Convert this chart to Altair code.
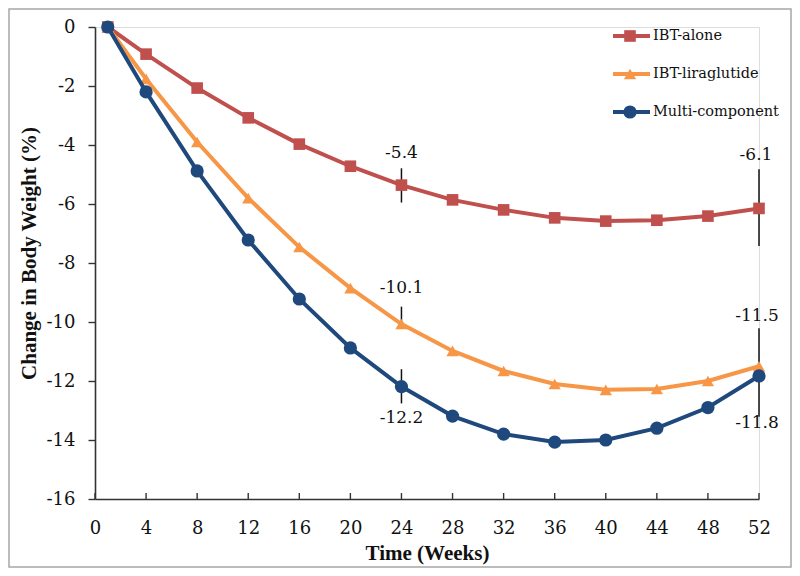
import altair as alt
import pandas as pd

# ---------------- data ----------------
weeks = [1, 4, 8, 12, 16, 20, 24, 28, 32, 36, 40, 44, 48, 52]
ibt_alone = [0, -0.92, -2.07, -3.08, -3.97, -4.72, -5.36, -5.86, -6.20, -6.47, -6.58, -6.55, -6.41, -6.15]
ibt_lira = [0, -1.76, -3.90, -5.80, -7.46, -8.85, -10.07, -10.98, -11.66, -12.10, -12.30, -12.27, -12.00, -11.50]
multi_comp = [0, -2.20, -4.88, -7.22, -9.22, -10.88, -12.19, -13.19, -13.80, -14.07, -14.00, -13.60, -12.90, -11.83]

series_names = ["IBT-alone", "IBT-liraglutide", "Multi-component"]
series_colors = ["#C0504D", "#F79646", "#1F497D"]
series_shapes = ["square", "triangle-up", "circle"]
series_sizes = [135, 150, 175]

# error bars
err_week = [24, 24, 24, 52, 52, 52]
err_low = [-5.95, -10.07, -12.76, -7.42, -11.50, -13.21]
err_high = [-4.79, -9.48, -11.60, -4.82, -10.21, -11.83]

# value labels
label_week = [24, 24, 24, 52, 52, 52]
label_value = [-5.36, -10.07, -12.19, -6.15, -11.50, -11.83]
label_text = ["-5.4", "-10.1", "-12.2", "-6.1", "-11.5", "-11.8"]

x_ticks = list(range(0, 53, 4))
y_ticks = list(range(-16, 1, 2))

# ---------------- layout (styles only) ----------------
W, H = 664, 472
PAD = {"left": 87, "top": 19, "right": 33, "bottom": 69}
label_dy = [-32, -36, 31, -53, -50, 47]
label_dx = [0, 0, 0, -3, -2, -2]
NUM_FONT = "DejaVu Serif"
TITLE_FONT = "Liberation Serif"

series_values = [ibt_alone, ibt_lira, multi_comp]
long_rows = []
for name, vals in zip(series_names, series_values):
    for w, v in zip(weeks, vals):
        long_rows.append({"series": name, "week": w, "value": v})
df = pd.DataFrame(long_rows)

err_df = pd.DataFrame({"week": err_week, "value": err_low, "value2": err_high})
lab_df = pd.DataFrame({"week": label_week, "value": label_value, "text": label_text})
xt_df = pd.DataFrame({"week": x_ticks})

x_scale = alt.Scale(domain=[0, 52], nice=False, zero=False)
y_scale = alt.Scale(domain=[-16, 0], nice=False, zero=False)

X = alt.X(
    "week:Q",
    scale=x_scale,
    axis=alt.Axis(
        values=x_ticks, title="Time (Weeks)", grid=False, tickSize=0,
        labelPadding=20, labelFont=NUM_FONT, labelFontSize=18, labelColor="#111",
        labelExpr="toString(datum.value)",
        domainColor="#333", domainWidth=1.6,
        titleFont=TITLE_FONT, titleFontSize=21, titleFontWeight="bold",
        titleColor="#111", titlePadding=5, labelFlush=False,
    ),
)
Y = alt.Y(
    "value:Q",
    scale=y_scale,
    axis=alt.Axis(
        values=y_ticks, title="Change in Body Weight (%)", grid=False,
        tickSize=7, tickColor="#333", tickWidth=1.4,
        labelPadding=13, labelFont=NUM_FONT, labelFontSize=18, labelColor="#111",
        labelExpr="toString(datum.value)",
        domainColor="#333", domainWidth=1.6,
        titleFont=TITLE_FONT, titleFontSize=21, titleFontWeight="bold",
        titleColor="#111", titleX=-66, titleY=226, titleAngle=-90,
        titleAlign="center", titleBaseline="middle", labelFlush=False,
    ),
)

layers = []

# frame around chart
frame = alt.Chart(pd.DataFrame({"k": [0]})).mark_rect(
    fill=None, stroke="#A6A6A6", strokeWidth=1.5
).encode(
    x=alt.value(-PAD["left"] + 1), x2=alt.value(W + PAD["right"] - 1),
    y=alt.value(-PAD["top"] + 1), y2=alt.value(H + PAD["bottom"] - 1),
)
layers.append(frame)

# x ticks pointing inward
xt = alt.Chart(xt_df).mark_rule(color="#333", strokeWidth=1.4).encode(
    x=alt.X("week:Q", scale=x_scale), y=alt.value(H), y2=alt.value(H - 6)
)
layers.append(xt)

# error bars
eb = alt.Chart(err_df).mark_rule(color="#111", strokeWidth=1.5).encode(
    x=alt.X("week:Q", scale=x_scale),
    y=alt.Y("value:Q", scale=y_scale),
    y2="value2:Q",
)
layers.append(eb)

# series
for name, col, shp, sz in zip(series_names, series_colors, series_shapes, series_sizes):
    sub = df[df["series"] == name]
    base = alt.Chart(sub)
    line = base.mark_line(color=col, strokeWidth=4).encode(x=X, y=Y)
    pts = base.mark_point(shape=shp, size=sz, filled=True, color=col, opacity=1).encode(
        x=alt.X("week:Q", scale=x_scale), y=alt.Y("value:Q", scale=y_scale)
    )
    layers += [line, pts]

# value labels
for i in range(len(label_text)):
    t = alt.Chart(lab_df.iloc[[i]]).mark_text(
        font=NUM_FONT, fontSize=17, color="#111", dy=label_dy[i], dx=label_dx[i],
        align="center", baseline="middle",
    ).encode(
        x=alt.X("week:Q", scale=x_scale), y=alt.Y("value:Q", scale=y_scale), text="text:N"
    )
    layers.append(t)

# manual legend
leg_y = [9, 47, 85]
for i, (name, col, shp, sz) in enumerate(zip(series_names, series_colors, series_shapes, series_sizes)):
    ldf = pd.DataFrame({"series": [name]})
    lb = alt.Chart(ldf)
    layers.append(lb.mark_rule(color=col, strokeWidth=4).encode(
        x=alt.value(518), x2=alt.value(555), y=alt.value(leg_y[i])))
    layers.append(lb.mark_point(shape=shp, size=sz, filled=True, color=col, opacity=1).encode(
        x=alt.value(535), y=alt.value(leg_y[i])))
    layers.append(lb.mark_text(font=NUM_FONT, fontSize=14.5, color="#111", align="left",
                               baseline="middle").encode(
        x=alt.value(558), y=alt.value(leg_y[i]), text="series:N"))

chart = alt.layer(*layers).properties(
    width=W, height=H,
    autosize=alt.AutoSizeParams(type="none"),
    padding=PAD,
).configure_view(stroke=None).configure(background="white")

chart.save("out.html", embed_options={"renderer": "svg", "actions": False})
